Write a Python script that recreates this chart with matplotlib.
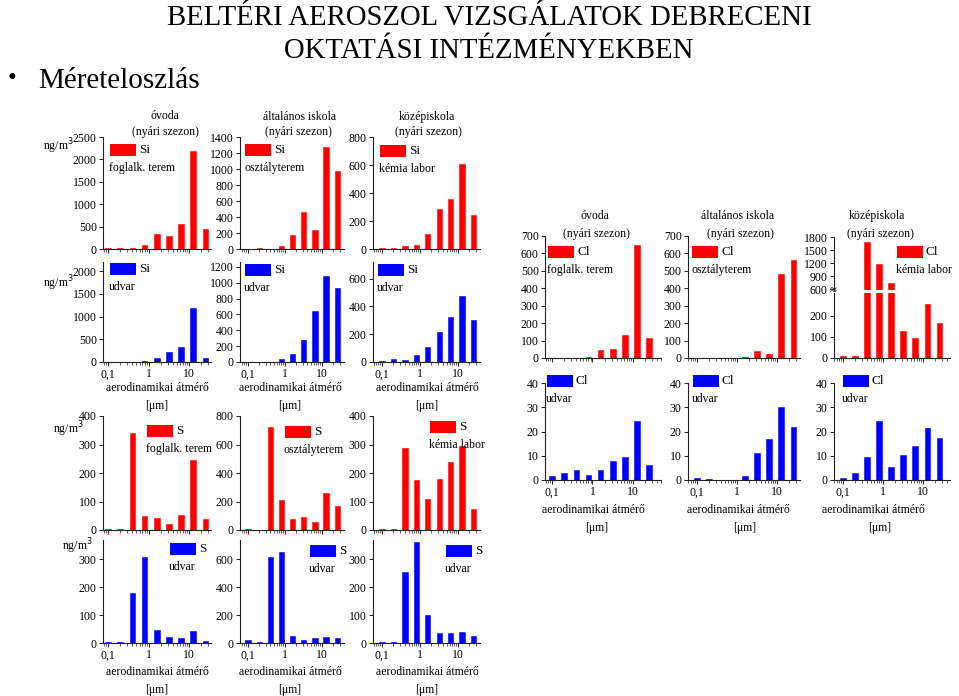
import matplotlib
matplotlib.use("Agg")
import matplotlib.pyplot as plt
from matplotlib.patches import Rectangle
from matplotlib.ticker import FixedLocator, LogLocator, NullFormatter

plt.rcParams['font.family'] = ['Liberation Serif', 'DejaVu Serif']

W, H = 959, 696

# ---------------- data ----------------
sizes = [0.1, 0.2, 0.4, 0.8, 1.6, 3.2, 6.4, 12.8, 25.6]   # aerodynamic diameter, um

si_ovoda_in = [15, 20, 25, 80, 330, 290, 550, 2180, 440]
si_alt_in = [5, 8, 5, 40, 173, 465, 240, 1280, 970]
si_koz_in = [5, 5, 21, 29, 105, 287, 356, 608, 246]

si_ovoda_ud = [5, 5, 10, 30, 87, 211, 320, 1185, 95]
si_alt_ud = [5, 5, 5, 38, 105, 272, 648, 1080, 930]
si_koz_ud = [10, 24, 17, 48, 105, 213, 323, 476, 301]

s_ovoda_in = [3, 3, 341, 48, 41, 20, 54, 247, 38]
s_alt_in = [10, 3, 725, 214, 78, 94, 59, 259, 169]
s_koz_in = [3, 2, 287, 176, 109, 178, 238, 294, 75]

s_ovoda_ud = [2, 3, 180, 307, 47, 22, 17, 43, 6]
s_alt_ud = [19, 9, 614, 649, 47, 24, 33, 42, 38]
s_koz_ud = [2, 2, 255, 361, 99, 36, 36, 41, 24]

cl_ovoda_in = [2, 2, 2, 3, 45, 50, 130, 650, 115]
cl_alt_in = [1, 1, 1, 1, 5, 40, 25, 480, 560]
cl_koz_in = [10, 10, 1690, 1170, 740, 126, 93, 256, 163]

cl_ovoda_ud = [1.5, 3, 4, 2, 4, 8, 9.5, 24.5, 6]
cl_alt_ud = [0.8, 0.5, 0.2, 0.2, 1.5, 11, 17, 30, 22]
cl_koz_ud = [1, 3, 9.5, 24.5, 5.5, 10.5, 14, 21.5, 17.5]

xtick_vals = [0.1, 1, 10]
xtick_labels = ["0,1", "1", "10"]

RED = "#FF0000"
BLUE = "#0000FF"
FS = 8.5

fig = plt.figure(figsize=(W / 100, H / 100), dpi=100)


def rect(l, r, t, b):
    return [l / W, 1 - b / H, (r - l) / W, (b - t) / H]


def ftext(x, y, s, **kw):
    kw.setdefault('fontsize', FS)
    fig.text(x / W, 1 - y / H, s, **kw)


def legend(x0, y0, color, name, sub):
    fig.patches.append(Rectangle((x0 / W, 1 - (y0 + 12) / H), 26 / W, 12 / H,
                                 transform=fig.transFigure, facecolor=color,
                                 edgecolor='none'))
    ftext(x0 + 29, y0 + 6, name, ha='left', va='center', fontsize=9.5)
    ftext(x0 - 1, y0 + 24, sub, ha='left', va='center')


def panel(box, xlim, vals, color, ylim, yticks, xlabels, bottom_spine=True):
    ax = fig.add_axes(rect(*box))
    f = 10 ** 0.07
    lefts = [s / f for s in sizes]
    widths = [s * f - s / f for s in sizes]
    ax.bar(lefts, vals, width=widths, align='edge', color=color,
           edgecolor=color, linewidth=0.4)
    ax.set_xscale('log')
    ax.set_xlim(*xlim)
    ax.set_ylim(*ylim)
    ax.set_yticks(yticks)
    ax.set_yticklabels([str(v) for v in yticks])
    ax.xaxis.set_major_locator(FixedLocator(xtick_vals))
    ax.xaxis.set_minor_locator(LogLocator(base=10, subs=range(2, 10)))
    ax.xaxis.set_minor_formatter(NullFormatter())
    if xlabels:
        ax.set_xticklabels(xtick_labels)
    else:
        ax.set_xticklabels([])
    for side in ('top', 'right'):
        ax.spines[side].set_visible(False)
    if not bottom_spine:
        ax.spines['bottom'].set_visible(False)
        ax.tick_params(axis='x', which='both', bottom=False, labelbottom=False)
    for side in ('left', 'bottom'):
        ax.spines[side].set_linewidth(0.8)
        ax.spines[side].set_color('#222222')
    ax.tick_params(axis='both', which='major', direction='out', length=3,
                   width=0.7, labelsize=FS, pad=1.5, colors='#222222',
                   labelcolor='black')
    ax.tick_params(axis='x', which='minor', direction='out', length=1.8,
                   width=0.5, colors='#222222')
    ax.set_facecolor('none')
    return ax


# ---------------- titles ----------------
ftext(489, 18, "BELTÉRI AEROSZOL VIZSGÁLATOK DEBRECENI", ha='center',
      va='center', fontsize=20.7)
ftext(489, 51, "OKTATÁSI INTÉZMÉNYEKBEN", ha='center', va='center',
      fontsize=20.7)
ftext(12, 79, "•", ha='center', va='center', fontsize=18)
ftext(38, 81, "Méreteloszlás", ha='left', va='center', fontsize=21)

# ---------------- left block ----------------
cols = [(103, 211), (240, 344), (373, 480)]
xl = [(0.075, 35), (0.061, 39), (0.058, 38)]
rows = [(137, 249), (262, 362), (416, 530), (540, 643)]

data_rows = [
    ([si_ovoda_in, si_alt_in, si_koz_in], RED,
     [2500, 1400, 800], [500, 200, 200], False),
    ([si_ovoda_ud, si_alt_ud, si_koz_ud], BLUE,
     [2200, 1260, 720], [500, 200, 200], True),
    ([s_ovoda_in, s_alt_in, s_koz_in], RED,
     [400, 800, 400], [100, 200, 100], False),
    ([s_ovoda_ud, s_alt_ud, s_koz_ud], BLUE,
     [368, 736, 368], [100, 200, 100], True),
]
tick_max = [[2500, 1400, 800], [2000, 1200, 600], [400, 800, 400], [300, 600, 300]]

for ri, (vals3, color, tops, steps, xlab) in enumerate(data_rows):
    t, b = rows[ri]
    for ci in range(3):
        l, r = cols[ci]
        yt = list(range(0, tick_max[ri][ci] + 1, steps[ci]))
        panel((l, r, t, b), xl[ci], vals3[ci], color, (0, tops[ci]), yt, xlab)

# headers
ftext(165, 116, "óvoda", ha='center', va='center')
ftext(165, 132, "(nyári szezon)", ha='center', va='center')
ftext(300, 117, "általános iskola", ha='center', va='center')
ftext(298, 132, "(nyári szezon)", ha='center', va='center')
ftext(427, 117, "középiskola", ha='center', va='center')
ftext(428, 132, "(nyári szezon)", ha='center', va='center')

# units
for x, y in [(58, 146), (58, 283), (68, 429), (77, 546)]:
    ftext(x, y, "ng/m$^3$", ha='center', va='center')

# x labels
for cx in [157, 290, 427]:
    for y0 in [388, 672]:
        ftext(cx, y0, "aerodinamikai átmérő", ha='center', va='center')
        ftext(cx, y0 + 18, "[μm]", ha='center', va='center')

# legends left
legend(110, 144, RED, "Si", "foglalk. terem")
legend(245, 144, RED, "Si", "osztályterem")
legend(380, 145, RED, "Si", "kémia labor")
legend(110, 263, BLUE, "Si", "udvar")
legend(245, 264, BLUE, "Si", "udvar")
legend(378, 264, BLUE, "Si", "udvar")
legend(147, 425, RED, "S", "foglalk. terem")
legend(285, 426, RED, "S", "osztályterem")
legend(430, 421, RED, "S", "kémia labor")
legend(170, 543, BLUE, "S", "udvar")
legend(310, 545, BLUE, "S", "udvar")
legend(446, 545, BLUE, "S", "udvar")

# ---------------- right block ----------------
rcols = [(545, 661), (688, 800), (834, 950)]
rxl = [(0.067, 50), (0.06, 37.6), (0.06, 47)]
rt, rb = 236, 358
rt2, rb2 = 383, 480

panel((rcols[0][0], rcols[0][1], rt, rb), rxl[0], cl_ovoda_in, RED,
      (0, 700), list(range(0, 701, 100)), False)
panel((rcols[1][0], rcols[1][1], rt, rb), rxl[1], cl_alt_in, RED,
      (0, 700), list(range(0, 701, 100)), False)
# broken axis panel
axu = panel((rcols[2][0], rcols[2][1], 237, 290), rxl[2], cl_koz_in, RED,
            (580, 1800), [600, 900, 1200, 1500, 1800], False,
            bottom_spine=False)
axl = panel((rcols[2][0], rcols[2][1], 293, 358), rxl[2], cl_koz_in, RED,
            (0, 307), [0, 100, 200], False)
ftext(rcols[2][0] - 1, 291.5, "≈", ha='center', va='center', fontsize=9)

panel((rcols[0][0], rcols[0][1], rt2, rb2), rxl[0], cl_ovoda_ud, BLUE,
      (0, 40), [0, 10, 20, 30, 40], True)
panel((rcols[1][0], rcols[1][1], rt2, rb2), rxl[1], cl_alt_ud, BLUE,
      (0, 40), [0, 10, 20, 30, 40], True)
panel((rcols[2][0], rcols[2][1], rt2, rb2), rxl[2], cl_koz_ud, BLUE,
      (0, 40), [0, 10, 20, 30, 40], True)

ftext(595, 216, "óvoda", ha='center', va='center')
ftext(596, 234, "(nyári szezon)", ha='center', va='center')
ftext(738, 216, "általános iskola", ha='center', va='center')
ftext(740, 234, "(nyári szezon)", ha='center', va='center')
ftext(877, 216, "középiskola", ha='center', va='center')
ftext(880, 234, "(nyári szezon)", ha='center', va='center')

for cx, cx2 in [(593, 597), (738, 745), (873, 880)]:
    ftext(cx, 510, "aerodinamikai átmérő", ha='center', va='center')
    ftext(cx2, 528, "[μm]", ha='center', va='center')

legend(548, 246, RED, "Cl", "foglalk. terem")
legend(692, 246, RED, "Cl", "osztályterem")
legend(897, 246, RED, "Cl", "kémia labor")
legend(547, 375, BLUE, "Cl", "udvar")
legend(693, 375, BLUE, "Cl", "udvar")
legend(843, 375, BLUE, "Cl", "udvar")

fig.savefig("out.png", dpi=100)
